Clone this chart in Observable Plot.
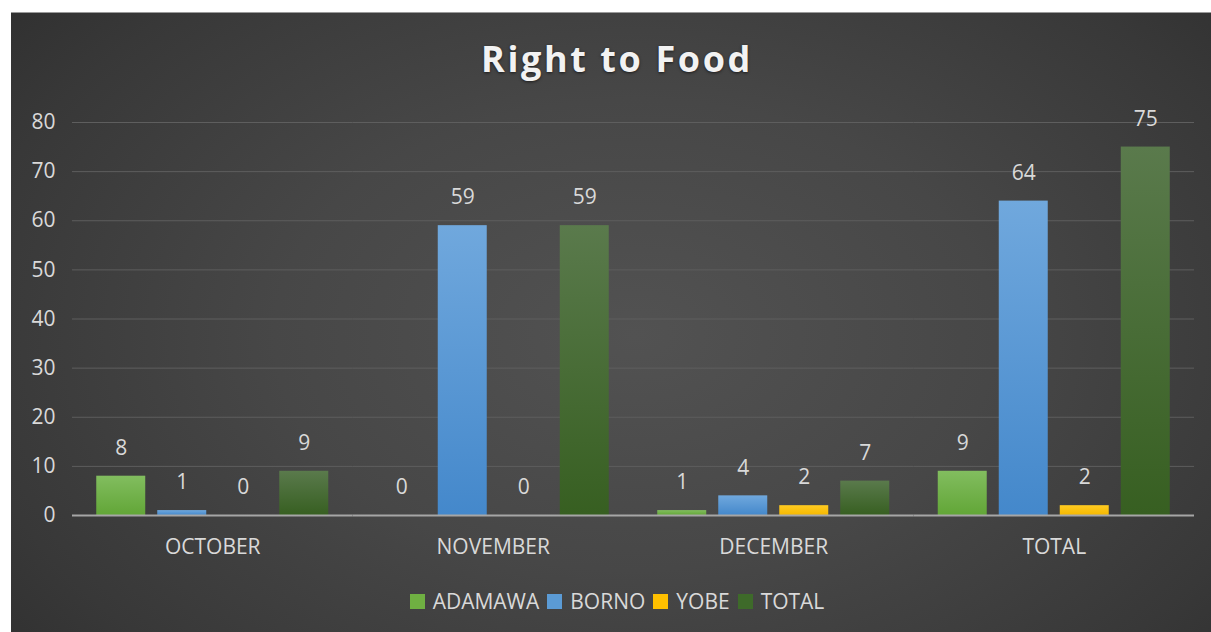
<!DOCTYPE html>
<html>
<head>
<meta charset="utf-8">
<script src="https://cdn.jsdelivr.net/npm/d3@7"></script>
<script src="https://cdn.jsdelivr.net/npm/@observablehq/plot@0.6"></script>
<style>
  html, body { margin: 0; padding: 0; background: #ffffff; width: 1211px; height: 632px; overflow: hidden; }
  #panel {
    position: absolute; left: 11px; top: 12px; width: 1200px; height: 620px;
    border-top: 1px solid #9a9a9a;
    box-sizing: border-box;
    background: radial-gradient(ellipse 75% 95% at 52% 52%, #525252 0%, #474747 40%, #383838 75%, #2b2b2b 100%);
    font-family: "Open Sans", sans-serif;
  }
  #title {
    position: absolute; left: 12px; right: 0; top: 21px; text-align: center;
    color: #f2f2f2; font-weight: 700; font-size: 36px; letter-spacing: 2.6px;
    text-shadow: 0 1px 3px rgba(0,0,0,0.6);
  }
  #chart { position: absolute; left: 0; top: 88px; }
  #legend {
    position: absolute; left: 12px; right: 0; top: 574px; display: flex; justify-content: center;
    align-items: center; gap: 8px; color: #d9d9d9; font-size: 21px;
  }
  #legend .item { display: flex; align-items: center; gap: 8px; }
  #legend .sw { width: 15px; height: 15px; display: inline-block; }
</style>
</head>
<body>
<div id="panel">
  <div id="title">Right to Food</div>
  <div id="chart"></div>
  <div id="legend"></div>
</div>
<script>
// ---- data ----
const months = ["OCTOBER", "NOVEMBER", "DECEMBER", "TOTAL"];
const series = ["ADAMAWA", "BORNO", "YOBE", "TOTAL"];
const adamawa = [8, 0, 1, 9];
const borno = [1, 59, 4, 64];
const yobe = [0, 0, 2, 2];
const total = [9, 59, 7, 75];
const yTicks = [0, 10, 20, 30, 40, 50, 60, 70, 80];

// ---- styling ----
const gradIds = ["gAdamawa", "gBorno", "gYobe", "gTotal"];
const gradStops = [
  ["#82bd5f", "#62a637"],
  ["#70a8dd", "#4488cb"],
  ["#ffcb22", "#f5b800"],
  ["#5a7a4c", "#375f21"]
];
const swatch = ["#6fb042", "#5b9bd5", "#ffc000", "#3e6a2a"];

const values = [adamawa, borno, yobe, total];
const data = [];
months.forEach((m, i) => {
  series.forEach((s, j) => {
    data.push({month: m, series: s, value: values[j][i]});
  });
});

const FS = 21;

const chart = Plot.plot({
  width: 1200,
  height: 470,
  marginLeft: 61,
  marginRight: 17,
  marginTop: 21,
  marginBottom: 56,
  style: {background: "transparent", color: "#d9d9d9", fontFamily: "'Open Sans', sans-serif", fontSize: FS + "px"},
  fx: {domain: months, padding: 0, label: null, round: false},
  x: {domain: series, paddingInner: 0.197, paddingOuter: 0.3975, axis: null, round: false},
  y: {domain: [0, 80], axis: null},
  color: {domain: series, range: gradIds.map(id => `url(#${id})`)},
  marks: [
    Plot.gridY(yTicks.filter(d => d > 0), {stroke: "#5e5e5e", strokeOpacity: 1, strokeWidth: 1}),
    Plot.axisY(yTicks, {tickSize: 0, tickPadding: 17, fontSize: FS, fill: "#d9d9d9", label: null}),
    Plot.barY(data, {fx: "month", x: "series", y: "value", fill: "series",
      style: "filter: drop-shadow(1px 1px 2px rgba(0,0,0,0.45))"}),
    Plot.ruleY([0], {stroke: "#a6a6a6", strokeWidth: 2}),
    Plot.text(data, {fx: "month", x: "series", y: "value", text: d => String(d.value),
      dy: -28, fill: "#d9d9d9", fontSize: FS}),
    Plot.axisFx({anchor: "bottom", tickSize: 0, tickPadding: 24, fontSize: FS, fill: "#d9d9d9", label: null})
  ]
});

document.getElementById("chart").appendChild(chart);

// gradient definitions for the bar fills
const svg = d3.select(chart.tagName.toLowerCase() === "svg" ? chart : chart.querySelector("svg"));
const defs = svg.insert("defs", ":first-child");
gradIds.forEach((id, i) => {
  const g = defs.append("linearGradient").attr("id", id)
    .attr("x1", 0).attr("y1", 0).attr("x2", 0).attr("y2", 1);
  g.append("stop").attr("offset", "0%").attr("stop-color", gradStops[i][0]);
  g.append("stop").attr("offset", "100%").attr("stop-color", gradStops[i][1]);
});

// legend
const legend = d3.select("#legend");
series.forEach((s, i) => {
  const item = legend.append("div").attr("class", "item");
  item.append("span").attr("class", "sw").style("background", swatch[i]);
  item.append("span").text(s);
});
</script>
</body>
</html>
